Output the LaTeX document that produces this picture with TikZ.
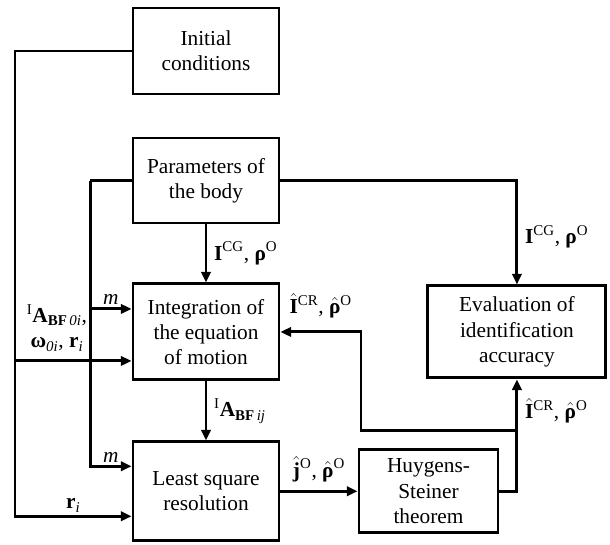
\documentclass[tikz,border=0pt]{standalone}
\usepackage{amsmath}
\usepackage{fontspec}
\setmainfont{Liberation Serif}
\usetikzlibrary{positioning,arrows.meta,calc}
\newcommand{\hb}[1]{$\hat{\mbox{\textbf{#1}}}$}

\begin{document}
\begin{tikzpicture}[
  font=\fontsize{16}{19}\selectfont,>={Triangle[length=8pt,width=7pt]},
  blk/.style={draw,line width=2.2pt,minimum width=109.5pt,align=center,inner sep=2pt},
  flow/.style={->,line width=2.2pt},
  lnk/.style={line width=2.2pt},
  lbl/.style={inner sep=2pt,align=center},
]
\useasboundingbox (-154.5pt,38.25pt) rectangle (303pt,-369.75pt);

% main chain (left column)
\node[blk,minimum height=64.5pt] (init) {Initial\\conditions};
\node[blk,minimum height=63.75pt,below=30.8pt of init] (par) {Parameters of\\the body};
\node[blk,minimum height=72pt,below=43.5pt of par] (integ) {Integration of\\the equation\\of motion};
\node[blk,minimum height=74pt,below=44.3pt of integ] (lsq) {Least square\\resolution};

% right side
\node[blk,minimum width=104.25pt,minimum height=62.25pt,right=57.8pt of lsq] (huy) {Huygens-\\Steiner\\theorem};
\node[blk,minimum width=133.5pt,minimum height=69pt,right=109.5pt of integ] (eval) {Evaluation of\\identification\\accuracy};

% bends and entry points
\coordinate (lft) at ($(init.west)+(-87.4pt,0)$);
\coordinate (mid) at ($(par.west)+(-31.1pt,0)$);
\coordinate (integ-m) at ($(integ.west)+(0,17.25pt)$);
\coordinate (integ-a) at ($(integ.west)+(0,-21.75pt)$);
\coordinate (lsq-m) at ($(lsq.west)+(0,18.75pt)$);
\coordinate (lsq-r) at ($(lsq.west)+(0,-18.75pt)$);
\coordinate (fb) at ($(eval.south)+(0,-38pt)$);
\coordinate (fbx) at ($(integ.east)+(60.4pt,0)$);

% initial conditions feed
\draw[flow] (init.west) -- (lft) |- (lsq-r) node[lbl,above,pos=0.75] {\textbf{r}\textsubscript{\textit{i}}};
\draw[flow] (lft |- integ-a) -- (integ-a) node[lbl,above=4pt,pos=0.36] {\textsuperscript{I}\textbf{A}\textsubscript{\textbf{BF}\,\textit{0i}},\\\textbf{ω}\textsubscript{\textit{0i}}, \textbf{r}\textsubscript{\textit{i}}};

% body parameters feed
\draw[lnk] (par.west) -- (mid);
\draw[flow] (mid) |- (lsq-m) node[lbl,above,pos=0.75] {\textit{m}};
\draw[flow] (mid |- integ-m) -- (integ-m) node[lbl,above,midway] {\textit{m}};
\draw[flow] (par.south) -- (integ.north) node[lbl,right=3pt,midway] {\textbf{I}\textsuperscript{CG}, \textbf{ρ}\textsuperscript{O}};
\draw[flow] (par.east) -| (eval.north) node[lbl,right=3pt,pos=0.77] {\textbf{I}\textsuperscript{CG}, \textbf{ρ}\textsuperscript{O}};

% identification chain
\draw[flow] (integ.south) -- (lsq.north) node[lbl,right=3pt,midway] {\textsuperscript{I}\textbf{A}\textsubscript{\textbf{BF}\,\textit{ij}}};
\draw[flow] (huy.west -| lsq.east) -- (huy.west) node[lbl,above=4pt,midway] {\hb{j}\textsuperscript{O}, \hb{ρ}\textsuperscript{O}};
\draw[flow] (huy.east) -| (eval.south) node[lbl,right=3pt,pos=0.86] {\hb{I}\textsuperscript{CR}, \hb{ρ}\textsuperscript{O}};

% feedback to the integration
\draw[flow] (fb) -| (fbx) -- (integ.east) node[lbl,above=7pt,midway] {\hb{I}\textsuperscript{CR}, \hb{ρ}\textsuperscript{O}};
\end{tikzpicture}
\end{document}
